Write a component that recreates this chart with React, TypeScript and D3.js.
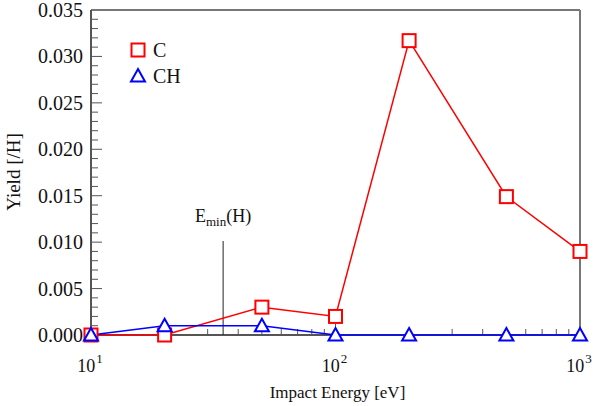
import React from "react";
import * as d3 from "d3";

const energies = [10, 20, 50, 100, 200, 500, 1000];
const yieldC = [0, 0, 0.003, 0.002, 0.0317, 0.0149, 0.009];
const yieldCH = [0, 0.001, 0.001, 0, 0, 0, 0];
const yTicks = [0, 0.005, 0.01, 0.015, 0.02, 0.025, 0.03, 0.035];
const xMajor = [10, 100, 1000];
const eminValue = 34.7;

const W = 600, H = 406;
const M = { left: 91, right: 580, top: 10, bottom: 335 };
const FONT = "Liberation Serif, Times New Roman, serif";
const TS: React.CSSProperties = { fontFamily: FONT };

export default function App() {
  const x = d3.scaleLog().domain([10, 1000]).range([M.left, M.right]);
  const y = d3.scaleLinear().domain([0, 0.035]).range([M.bottom, M.top]);
  const line = d3.line<[number, number]>().x(d => x(d[0])).y(d => y(d[1]));
  const cPts = energies.map((e, i) => [e, yieldC[i]] as [number, number]);
  const chPts = energies.map((e, i) => [e, yieldCH[i]] as [number, number]);

  const xMinor: number[] = [];
  for (const dec of [10, 100]) for (let k = 2; k <= 9; k++) xMinor.push(dec * k);
  const yMinor: number[] = [];
  for (let i = 0; i <= 35; i++) if (i % 5 !== 0) yMinor.push(i * 0.001);

  const sq = (cx: number, cy: number, key: string, color: string) => (
    <rect key={key} x={cx - 6.5} y={cy - 6.5} width={13} height={13} fill="white" stroke={color} strokeWidth={2} />
  );
  const tri = (cx: number, cy: number, key: string, color: string) => (
    <path key={key} d={`M${cx},${cy - 7}L${cx + 7},${cy + 5.5}L${cx - 7},${cy + 5.5}Z`} fill="white" stroke={color} strokeWidth={2} />
  );

  const xe = x(eminValue);

  return (
    <svg width={W} height={H} style={{ position: "absolute", left: 0, top: 0, fontFamily: FONT }}>
      <rect width={W} height={H} fill="white" />
      {xMinor.map(v => (
        <line key={"xm" + v} x1={x(v)} x2={x(v)} y1={M.bottom} y2={M.bottom - 6} stroke="#555" strokeWidth={1} />
      ))}
      {xMajor.map(v => (
        <line key={"xM" + v} x1={x(v)} x2={x(v)} y1={M.bottom} y2={M.bottom - 11} stroke="#555" strokeWidth={1} />
      ))}
      {yMinor.map(v => (
        <line key={"ym" + v} x1={M.left} x2={M.left + 7} y1={y(v)} y2={y(v)} stroke="#555" strokeWidth={1} />
      ))}
      {yTicks.map(v => (
        <line key={"yM" + v} x1={M.left} x2={M.left + 11} y1={y(v)} y2={y(v)} stroke="#555" strokeWidth={1} />
      ))}
      <line x1={M.left} x2={M.right} y1={M.top} y2={M.top} stroke="#777" strokeWidth={2} />
      <line x1={M.right} x2={M.right} y1={M.top} y2={M.bottom} stroke="#777" strokeWidth={2} />
      <line x1={M.left} x2={M.left} y1={M.top} y2={M.bottom} stroke="#555" strokeWidth={2} />
      <line x1={M.left} x2={M.right} y1={M.bottom} y2={M.bottom} stroke="#555" strokeWidth={2} />
      {yTicks.map(v => (
        <text key={"yl" + v} style={TS} x={M.left - 8} y={y(v) + 7} textAnchor="end" fontSize={20} fill="#111">
          {v.toFixed(3)}
        </text>
      ))}
      {xMajor.map(v => (
        <text key={"xl" + v} style={TS} x={x(v) - 1} y={372} textAnchor="middle" fontSize={18} fill="#111">
          10
          <tspan dx={1} dy={-9} fontSize={13}>{Math.round(Math.log10(v))}</tspan>
        </text>
      ))}
      <text style={TS} x={(M.left + M.right) / 2 + 2} y={398} textAnchor="middle" fontSize={17} fill="#111">
        Impact Energy [eV]
      </text>
      <text style={TS} transform={`translate(20,${172}) rotate(-90)`} textAnchor="middle" fontSize={19} fill="#111">
        Yield [/H]
      </text>
      <line x1={xe} x2={xe} y1={241} y2={M.bottom} stroke="#222" strokeWidth={1} />
      <text style={TS} x={xe} y={222} textAnchor="middle" fontSize={18} fill="#111">
        E<tspan fontSize={13} dy={4}>min</tspan><tspan dy={-4}>(H)</tspan>
      </text>
      <path d={line(cPts) || ""} fill="none" stroke="#ff0000" strokeWidth={1.5} />
      <path d={line(chPts) || ""} fill="none" stroke="#0000ff" strokeWidth={1.5} />
      {cPts.map((p, i) => sq(x(p[0]), y(p[1]), "c" + i, "#ff0000"))}
      {chPts.map((p, i) => tri(x(p[0]), y(p[1]), "ch" + i, "#0000ff"))}
      {sq(138, 50, "lc", "#ff0000")}
      <text style={TS} x={153} y={57} fontSize={20} fill="#111">C</text>
      {tri(138, 76, "lch", "#0000ff")}
      <text style={TS} x={153} y={83} fontSize={20} fill="#111">CH</text>
    </svg>
  );
}
